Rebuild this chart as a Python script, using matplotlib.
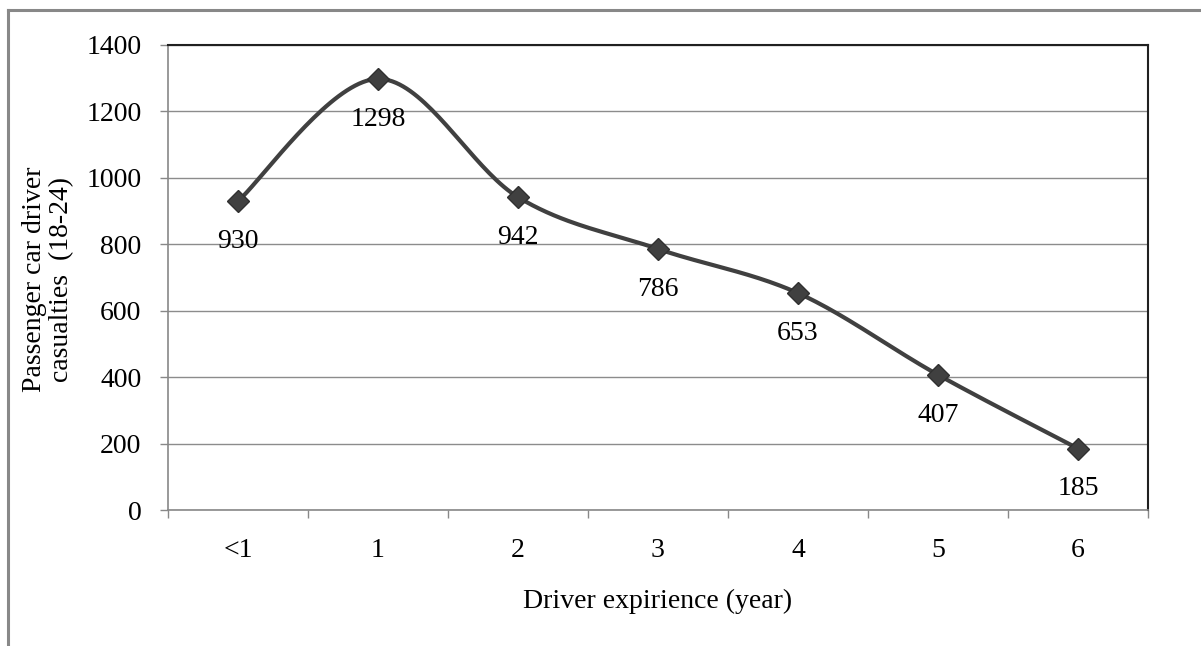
import numpy as np
import matplotlib
matplotlib.use("Agg")
import matplotlib.pyplot as plt
from matplotlib.lines import Line2D

categories = ["<1", "1", "2", "3", "4", "5", "6"]
casualties = [930, 1298, 942, 786, 653, 407, 185]
y_ticks = [0, 200, 400, 600, 800, 1000, 1200, 1400]

plt.rcParams['font.family'] = ['Liberation Serif', 'DejaVu Serif']
FS = 20

W, H = 1201, 646
fig = plt.figure(figsize=(W / 100, H / 100), dpi=100)
ax = fig.add_axes([168 / W, 1 - 510 / H, (1148 - 168) / W, (510 - 45) / H])

x = np.arange(len(categories), dtype=float)
y = np.array(casualties, dtype=float)

# Excel-like smoothed line (Catmull-Rom -> cubic Bezier)
xs, ys = [], []
n = len(x)
for i in range(n - 1):
    p0 = np.array([x[max(i - 1, 0)], y[max(i - 1, 0)]])
    p1 = np.array([x[i], y[i]])
    p2 = np.array([x[i + 1], y[i + 1]])
    p3 = np.array([x[min(i + 2, n - 1)], y[min(i + 2, n - 1)]])
    c1 = p1 + (p2 - p0) / 6.0
    c2 = p2 - (p3 - p1) / 6.0
    t = np.linspace(0, 1, 40)[:, None]
    pts = ((1 - t) ** 3) * p1 + 3 * ((1 - t) ** 2) * t * c1 + 3 * (1 - t) * t ** 2 * c2 + t ** 3 * p2
    xs.extend(pts[:, 0])
    ys.extend(pts[:, 1])

ax.plot(xs, ys, color="#404040", lw=3.0, solid_capstyle="round", zorder=3)
ax.plot(x, y, linestyle="none", marker="D", ms=11, color="#404040",
        markeredgecolor="#303030", zorder=4)

for xi, yi in zip(x, y):
    ax.annotate(f"{int(yi)}", (xi, yi), xytext=(0, -29), textcoords="offset points",
                ha="center", va="center", fontsize=FS, color="black", zorder=5)

ax.set_xlim(-0.5, n - 0.5)
ax.set_ylim(0, 1400)
ax.set_yticks(y_ticks)
ax.set_yticklabels([str(v) for v in y_ticks], fontsize=FS)
ax.set_xticks(x)
ax.set_xticklabels(categories, fontsize=FS)
ax.set_xticks(np.arange(-0.5, n, 1.0), minor=True)

ax.tick_params(axis="x", which="major", length=0, pad=20)
ax.tick_params(axis="x", which="minor", length=6, width=1, color="#888888", direction="out")
ax.tick_params(axis="y", which="major", length=6, width=1, color="#888888", direction="out", pad=13)

ax.grid(axis="y", color="#8c8c8c", lw=1.0)
ax.set_axisbelow(True)

for s in ["left", "bottom"]:
    ax.spines[s].set_color("#888888")
    ax.spines[s].set_linewidth(1.2)
for s in ["top", "right"]:
    ax.spines[s].set_color("#202020")
    ax.spines[s].set_linewidth(1.5)

fig.text(658 / W, 1 - 601 / H, "Driver expirience (year)", ha="center", va="center", fontsize=FS)
fig.text(48 / W, 1 - 279 / H, "Passenger car driver\ncasualties  (18-24)", rotation=90,
         ha="center", va="center", multialignment="center", fontsize=FS, linespacing=1.12)

# outer frame (top and left edges visible)
fig.add_artist(Line2D([8 / W, 8 / W], [0, 1 - 10 / H], transform=fig.transFigure,
                      color="#888888", lw=2.2))
fig.add_artist(Line2D([8 / W, 1], [1 - 10 / H, 1 - 10 / H], transform=fig.transFigure,
                      color="#888888", lw=2.2))

fig.savefig("out.png", dpi=100, facecolor="white")
